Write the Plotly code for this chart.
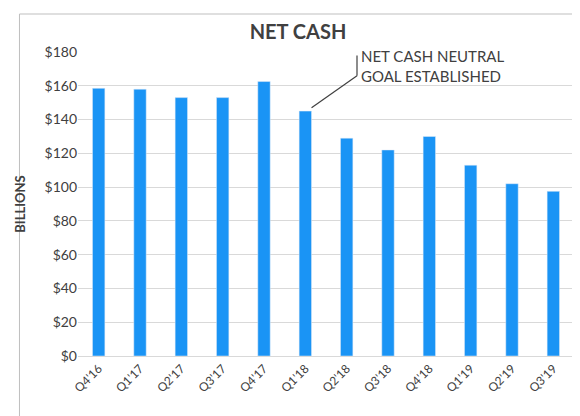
import plotly.graph_objects as go

quarters = ["Q4'16", "Q1'17", "Q2'17", "Q3'17", "Q4'17", "Q1'18",
            "Q2'18", "Q3'18", "Q4'18", "Q1'19", "Q2'19", "Q3'19"]
net_cash = [158.5, 158, 153, 153, 162.5, 145, 129, 122, 130, 113, 102, 97.5]
y_ticks = [0, 20, 40, 60, 80, 100, 120, 140, 160, 180]

fig = go.Figure(go.Bar(x=quarters, y=net_cash, marker_color="#1a94f5", width=0.3))

fig.update_layout(
    width=580, height=416,
    margin=dict(l=70, r=14, t=44, b=68),
    paper_bgcolor="white", plot_bgcolor="white",
    font=dict(family="Lato", color="#404040"),
    title=dict(text="<b>NET CASH</b>", x=0.5, y=0.96, xanchor="center",
               font=dict(size=20, color="#404040")),
    showlegend=False,
)
fig.update_xaxes(tickangle=-45, tickfont=dict(size=12, color="#404040"),
                 showline=True, linecolor="#d9d9d9", ticks="")
fig.update_yaxes(range=[0, 180], tickvals=y_ticks,
                 ticktext=[f"${v}" for v in y_ticks],
                 tickfont=dict(size=14, color="#404040"),
                 gridcolor="#d9d9d9", zeroline=False,
                 title=dict(text="<b>BILLIONS</b>", font=dict(size=13, color="#404040")))

# border around the chart
fig.add_shape(type="rect", xref="paper", yref="paper", x0=-0.118, y0=-0.205,
              x1=1.02, y1=1.125, line=dict(color="#bfbfbf", width=1))

# callout
fig.add_shape(type="line", xref="x", yref="y", x0=5.15, y0=147, x1=6.25, y1=166,
              line=dict(color="#404040", width=1.2))
fig.add_shape(type="line", xref="x", yref="y", x0=6.25, y0=166, x1=6.25, y1=178,
              line=dict(color="#404040", width=1.2))
fig.add_annotation(x=6.3, y=172, xref="x", yref="y", xanchor="left", yanchor="middle",
                   text="NET CASH NEUTRAL<br>GOAL ESTABLISHED", showarrow=False,
                   align="left", font=dict(size=15, color="#404040"))

fig.write_html("out.html")
